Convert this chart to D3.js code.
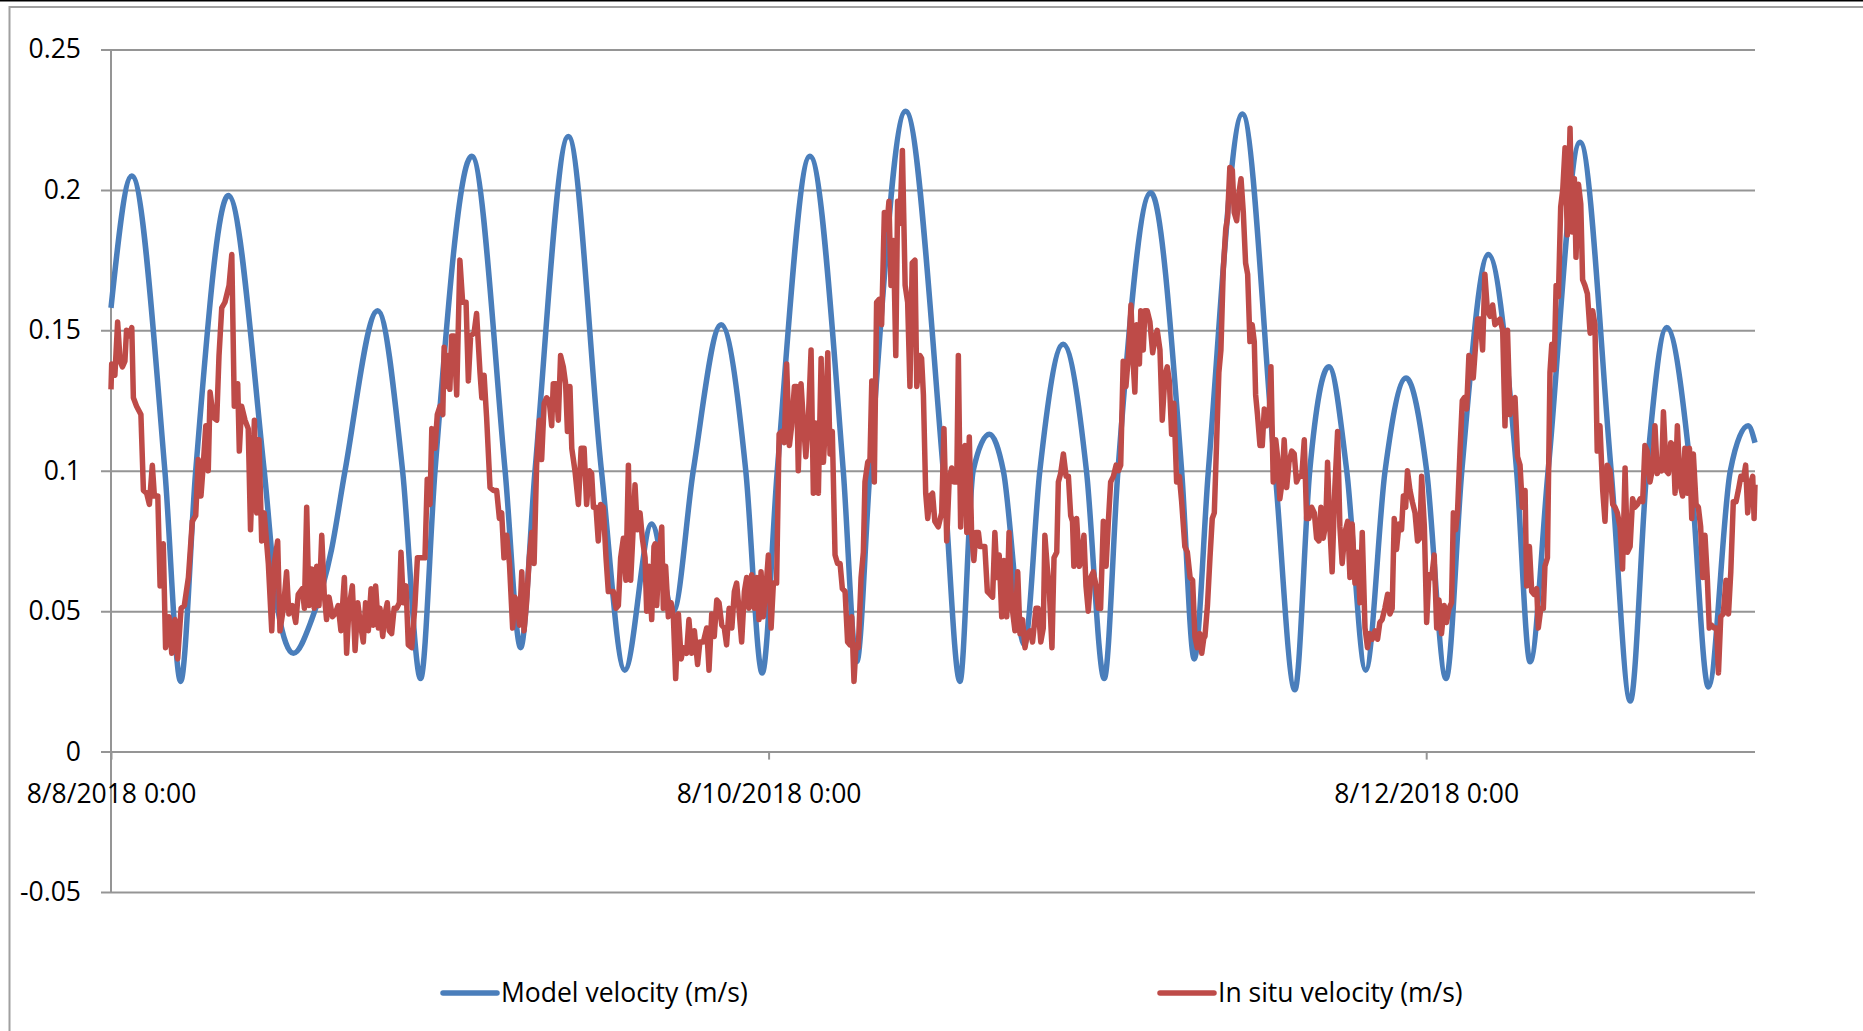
<!DOCTYPE html>
<html lang="en">
<head>
    <meta charset="UTF-8">
    <title>Velocity</title>
    <script src="https://d3js.org/d3.v7.min.js"></script>
    <style>
        body { margin: 0; background: #fff; }
        text { font-family: "Segoe UI", "Open Sans", sans-serif; fill: #000; }
    </style>
</head>
<body>

<script>
    // hours after 8/8/2018 0:00
    modelHours = [0, 1.51, 3.94, 5.09, 6.18, 8.56, 11.19, 12.2, 13.31, 14.65, 16.1, 17.08, 19.46,
        21.29, 22.6, 23.65, 26.33, 28.76, 29.9, 30.95, 33.38, 35.8, 37.5, 39.47, 41.05, 42.5,
        44.53, 46.33, 47.54, 48.64, 51.02, 53.45, 54.43, 55.4, 58.0, 60.75, 61.97, 62.94, 64.11,
        65.13, 66.67, 67.8, 69.5, 71.2, 72.5, 73.5, 75.9, 78.15, 79.07, 80.1, 82.58, 84.96,
        86.42, 87.5, 88.9, 90.2, 91.58, 93.0, 94.53, 96.04, 97.45, 98.6, 100.53, 102.6, 103.58,
        104.9, 107.23, 109.5, 110.9, 112.1, 113.55, 115.3, 116.6, 118.2, 119.5, 120]
    modelVelocity = [0.158, 0.205, 0.1, 0.025, 0.1, 0.198, 0.1, 0.05, 0.035, 0.047, 0.072, 0.1, 0.157,
        0.1, 0.026, 0.1, 0.212, 0.1, 0.037, 0.1, 0.219, 0.1, 0.029, 0.081, 0.05, 0.1,
        0.152, 0.1, 0.028, 0.1, 0.212, 0.1, 0.032, 0.1, 0.228, 0.1, 0.025, 0.1, 0.113,
        0.1, 0.038, 0.1, 0.145, 0.1, 0.026, 0.1, 0.199, 0.1, 0.033, 0.1, 0.227, 0.1,
        0.022, 0.1, 0.137, 0.1, 0.029, 0.1, 0.133, 0.1, 0.026, 0.1, 0.177, 0.1, 0.032,
        0.1, 0.217, 0.1, 0.018, 0.1, 0.151, 0.1, 0.023, 0.1, 0.116, 0.11]

    situHours = [0, 0.05, 0.29, 0.49, 0.66, 0.83, 1.02, 1.14, 1.31, 1.51, 1.63, 1.87, 2.19, 2.36, 2.6, 2.8,
        3.02, 3.16, 3.41, 3.58, 3.82, 3.99, 4.23, 4.43, 4.67, 4.87, 5.11, 5.35, 5.65, 5.94, 6.18, 6.37,
        6.57, 6.74, 6.91, 7.1, 7.23, 7.47, 7.71, 7.88, 8.08, 8.32, 8.61, 8.81, 9.0, 9.25, 9.37, 9.54,
        9.78, 10.02, 10.19, 10.46, 10.63, 10.8, 11.0, 11.19, 11.48, 11.73, 11.92, 12.17, 12.34, 12.58,
        12.82, 12.99, 13.24, 13.48, 13.67, 13.97, 14.11, 14.28, 14.45, 14.65, 14.84, 15.01, 15.18, 15.38,
        15.57, 15.74, 15.91, 16.16, 16.35, 16.59, 16.79, 17.03, 17.2, 17.37, 17.62, 17.81, 18.01, 18.18,
        18.42, 18.59, 18.78, 18.98, 19.15, 19.32, 19.51,
        19.64, 19.83, 20.0, 20.17, 20.32, 20.49, 20.66, 20.85, 21.05, 21.17, 21.34, 21.53, 21.7, 21.95,
        22.19, 22.36, 22.68, 22.92, 23.09, 23.28, 23.41, 23.65, 23.82, 24.01, 24.21, 24.31, 24.5, 24.62,
        24.74, 24.87, 25.04, 25.23, 25.47, 25.67, 25.91, 26.08, 26.25, 26.5, 26.69, 26.93, 27.06, 27.23,
        27.42, 27.66, 27.91, 28.15, 28.35, 28.52, 28.69, 28.88, 29.08, 29.32, 29.49, 29.66, 29.81, 29.98,
        30.15, 30.34, 30.54, 30.71, 30.88, 31.07, 31.27, 31.44, 31.61, 31.8, 31.99, 32.17, 32.29, 32.48,
        32.65, 32.82, 33.02, 33.19, 33.31, 33.5, 33.63, 33.87, 34.11, 34.31, 34.53, 34.72, 34.92, 35.09,
        35.21, 35.4, 35.57, 35.74, 35.94, 36.13, 36.3, 36.47, 36.67, 36.86, 37.03, 37.2, 37.4, 37.59,
        37.76, 37.93, 38.08, 38.25, 38.42, 38.61, 38.78, 38.98, 39.1, 39.29, 39.46, 39.63,
        39.71, 39.83, 40.0, 40.2, 40.32, 40.49, 40.68, 40.88, 41.05, 41.22, 41.41, 41.61, 41.78, 42.02,
        42.19, 42.39, 42.58, 42.82, 42.99, 43.24, 43.48, 43.65, 43.85, 44.04, 44.21, 44.38, 44.58, 44.77,
        44.94, 45.11, 45.31, 45.5, 45.67, 45.84, 46.04, 46.23, 46.4, 46.57, 46.77, 46.96, 47.13, 47.3,
        47.45, 47.62, 47.81, 47.98, 48.18, 48.35, 48.59, 48.76, 48.96, 49.15, 49.32, 49.52, 49.69, 49.88,
        50.05, 50.17, 50.37, 50.54, 50.71, 50.9, 51.1, 51.27, 51.44, 51.63, 51.83, 52.0, 52.17, 52.31,
        52.48, 52.65, 52.85, 53.04, 53.21, 53.38, 53.58, 53.77, 53.94, 54.07, 54.24, 54.38, 54.55, 54.75,
        54.92, 55.04, 55.23, 55.4, 55.53, 55.72, 55.89, 56.06, 56.25, 56.45, 56.62, 56.79, 56.94, 57.11,
        57.28, 57.42, 57.59, 57.76, 57.96, 58.15, 58.32, 58.49, 58.69, 58.81, 59.05, 59.17, 59.3, 59.47,
        59.61,
        59.78, 59.97, 60.14, 60.39, 60.63, 60.8, 61.0, 61.19, 61.36, 61.53, 61.73, 61.85, 62.02, 62.16,
        62.33, 62.46, 62.65, 62.82, 62.99, 63.14, 63.31, 63.43, 63.62, 63.79, 63.96, 64.16, 64.35, 64.52,
        64.69, 64.84, 65.01, 65.18, 65.38, 65.55, 65.74, 65.98, 66.18, 66.35, 66.54, 66.71, 66.88, 67.08,
        67.27, 67.52, 67.69, 67.86, 68.05, 68.17, 68.34, 68.49, 68.69, 68.83, 69.03, 69.15, 69.32, 69.51,
        69.71, 69.88, 70.05, 70.19, 70.29, 70.49, 70.68, 70.85, 71.02, 71.17, 71.34, 71.51, 71.7, 71.9,
        72.07, 72.24, 72.43, 72.63, 72.8, 72.97, 73.16, 73.36, 73.53, 73.7, 73.89, 74.09, 74.26, 74.45,
        74.62, 74.74, 74.87, 75.06, 75.16, 75.35, 75.47, 75.64, 75.84, 76.03, 76.2, 76.37, 76.57, 76.74,
        76.93, 77.1, 77.25, 77.42, 77.59, 77.78, 77.98, 78.15, 78.39, 78.56, 78.76, 78.95, 79.12, 79.29,
        79.49, 79.61, 79.78,
        79.85, 80.04, 80.21, 80.39, 80.53, 80.7, 80.87, 81.02, 81.19, 81.36, 81.5, 81.67, 81.85, 81.99,
        82.16, 82.33, 82.48, 82.65, 82.82, 82.96, 83.13, 83.3, 83.45, 83.55, 83.69, 83.86, 84.03, 84.18,
        84.35, 84.52, 84.67, 84.84, 85.01, 85.15, 85.32, 85.49, 85.64, 85.81, 85.98, 86.18, 86.37, 86.54,
        86.71, 86.91, 87.1, 87.27, 87.44, 87.64, 87.83, 88.0, 88.17, 88.32, 88.49, 88.66, 88.8, 88.97,
        89.14, 89.34, 89.53, 89.7, 89.87, 90.07, 90.26, 90.43, 90.6, 90.8, 90.99, 91.16, 91.33, 91.53,
        91.72, 91.89, 92.06, 92.26, 92.45, 92.62, 92.79, 92.99, 93.18, 93.35, 93.52, 93.67, 93.84, 94.01,
        94.2, 94.33, 94.5, 94.64, 94.81, 94.98, 95.18, 95.37, 95.54, 95.66, 95.86, 96.03, 96.2, 96.4,
        96.59, 96.76, 96.93, 97.12, 97.32, 97.49, 97.66, 97.85, 97.98, 98.15, 98.29, 98.46, 98.63, 98.78,
        98.95, 99.12, 99.27, 99.44, 99.56, 99.75,
        99.93, 100.12, 100.29, 100.47, 100.66, 100.85, 101.02, 101.2, 101.39, 101.58, 101.75, 101.93,
        102.12, 102.29, 102.48, 102.66, 102.85, 103.02, 103.21, 103.34, 103.53, 103.7, 103.87, 104.07,
        104.19, 104.36, 104.55, 104.67, 104.85, 105.04, 105.16, 105.33, 105.48, 105.65, 105.82, 105.96,
        106.13, 106.3, 106.5, 106.65, 106.82, 106.94, 107.11, 107.28, 107.42, 107.59, 107.76, 107.96,
        108.15, 108.32, 108.49, 108.69, 108.88, 109.05, 109.22, 109.42, 109.61, 109.78, 109.95, 110.15,
        110.34, 110.51, 110.68, 110.88, 111.07, 111.24, 111.41, 111.61, 111.8, 111.97, 112.14, 112.34,
        112.53, 112.7, 112.87, 113.02, 113.19, 113.31, 113.51, 113.68, 113.85, 114.04, 114.16, 114.33,
        114.53, 114.72, 114.89, 115.06, 115.21, 115.38, 115.5, 115.7, 115.87, 116.04, 116.18, 116.35,
        116.52, 116.67, 116.84, 117.01, 117.2, 117.33, 117.5, 117.69, 117.89, 118.06, 118.23, 118.42,
        118.62, 118.79, 118.96, 119.15, 119.32, 119.47, 119.64, 119.83, 119.93, 120]
    situVelocity = [0.129, 0.138, 0.134, 0.153, 0.139, 0.137, 0.139, 0.15, 0.148, 0.151, 0.126, 0.123, 0.12, 0.093, 0.092, 0.088,
        0.102, 0.091, 0.091, 0.059, 0.074, 0.037, 0.048, 0.035, 0.047, 0.033, 0.051, 0.052, 0.062, 0.082, 0.084, 0.104,
        0.091, 0.102, 0.116, 0.1, 0.128, 0.119, 0.118, 0.141, 0.158, 0.16, 0.166, 0.177, 0.123, 0.131, 0.107, 0.123,
        0.118, 0.115, 0.079, 0.118, 0.085, 0.111, 0.075, 0.085, 0.067, 0.043, 0.067, 0.075, 0.043, 0.051,
        0.064, 0.049, 0.052, 0.046, 0.056, 0.058, 0.051, 0.087, 0.052, 0.065, 0.051, 0.066, 0.052, 0.077,
        0.056, 0.047, 0.055, 0.048, 0.049, 0.052, 0.043, 0.062, 0.035, 0.051, 0.059, 0.036, 0.053, 0.046,
        0.039, 0.053, 0.043, 0.058, 0.045, 0.059, 0.044,
        0.051, 0.041, 0.049, 0.053, 0.043, 0.042, 0.051, 0.051, 0.053, 0.071, 0.053, 0.059, 0.038, 0.037,
        0.052, 0.069, 0.069, 0.069, 0.097, 0.088, 0.115, 0.108, 0.12, 0.123, 0.12, 0.144, 0.13, 0.141,
        0.129, 0.148, 0.148, 0.127, 0.175, 0.16, 0.16, 0.132, 0.148, 0.149, 0.156, 0.135, 0.126, 0.134,
        0.119, 0.094, 0.093, 0.093, 0.083, 0.085, 0.069, 0.077, 0.067, 0.044, 0.055, 0.052, 0.045, 0.064,
        0.043, 0.053, 0.069, 0.078, 0.067, 0.102, 0.118, 0.104, 0.124, 0.126, 0.125, 0.116, 0.131, 0.131,
        0.118, 0.141, 0.137, 0.131, 0.114, 0.13, 0.108, 0.1, 0.088, 0.108, 0.108, 0.088, 0.1, 0.099,
        0.087, 0.087, 0.075, 0.088, 0.087, 0.069, 0.057, 0.057, 0.057, 0.051, 0.052, 0.069, 0.076, 0.061,
        0.102, 0.061, 0.076, 0.095, 0.079, 0.085, 0.076, 0.069, 0.05, 0.066, 0.047, 0.073,
        0.074, 0.052, 0.069, 0.08, 0.051, 0.066, 0.048, 0.053, 0.048, 0.026, 0.049, 0.033, 0.037, 0.035,
        0.047, 0.035, 0.043, 0.031, 0.039, 0.039, 0.044, 0.029, 0.049, 0.041, 0.054, 0.053, 0.045, 0.044,
        0.038, 0.051, 0.044, 0.057, 0.06, 0.051, 0.039, 0.057, 0.062, 0.051, 0.063, 0.051, 0.062, 0.047,
        0.064, 0.048, 0.059, 0.07, 0.044, 0.06, 0.06, 0.113, 0.114, 0.11, 0.138, 0.109, 0.116, 0.13,
        0.13, 0.1, 0.131, 0.118, 0.105, 0.118, 0.143, 0.092, 0.117, 0.092, 0.14, 0.103, 0.118, 0.142,
        0.106, 0.114, 0.07, 0.067, 0.067, 0.058, 0.057, 0.039, 0.038, 0.048, 0.025, 0.038, 0.037, 0.062,
        0.071, 0.096, 0.103, 0.104, 0.132, 0.096, 0.16, 0.161, 0.152, 0.192, 0.186, 0.196, 0.166, 0.182,
        0.141, 0.196, 0.188, 0.214, 0.166, 0.16, 0.13, 0.174, 0.175, 0.13, 0.141, 0.14, 0.127, 0.092,
        0.083,
        0.091, 0.092, 0.082, 0.08, 0.085, 0.115, 0.075, 0.097, 0.101, 0.096, 0.096, 0.141, 0.08, 0.107,
        0.109, 0.078, 0.112, 0.078, 0.068, 0.078, 0.078, 0.073, 0.073, 0.073, 0.057, 0.056, 0.055, 0.078,
        0.062, 0.07, 0.048, 0.068, 0.048, 0.078, 0.053, 0.043, 0.064, 0.042, 0.047, 0.037, 0.042, 0.043,
        0.039, 0.051, 0.051, 0.039, 0.044, 0.077, 0.066, 0.058, 0.037, 0.069, 0.071, 0.096, 0.099, 0.106,
        0.098, 0.098, 0.084, 0.082, 0.066, 0.083, 0.066, 0.069, 0.077, 0.059, 0.05, 0.062, 0.064, 0.059,
        0.051, 0.051, 0.082, 0.066, 0.082, 0.096, 0.098, 0.102, 0.1, 0.102, 0.139, 0.13, 0.141, 0.159,
        0.138, 0.128, 0.152, 0.138, 0.157, 0.143, 0.157, 0.157, 0.153, 0.142, 0.147, 0.15, 0.143, 0.118,
        0.134, 0.137, 0.132, 0.113, 0.124, 0.096, 0.098, 0.089, 0.073, 0.071, 0.062, 0.061, 0.041, 0.037,
        0.042, 0.035, 0.041,
        0.041, 0.052, 0.069, 0.083, 0.085, 0.11, 0.135, 0.143, 0.171, 0.186, 0.19, 0.208, 0.207, 0.192,
        0.189, 0.199, 0.204, 0.192, 0.174, 0.17, 0.146, 0.152, 0.146, 0.127, 0.12, 0.109, 0.109, 0.122,
        0.116, 0.117, 0.137, 0.096, 0.111, 0.105, 0.09, 0.096, 0.111, 0.094, 0.103, 0.107, 0.106, 0.096,
        0.098, 0.098, 0.111, 0.083, 0.083, 0.087, 0.085, 0.076, 0.075, 0.087, 0.076, 0.081, 0.103, 0.08,
        0.064, 0.094, 0.114, 0.08, 0.067, 0.078, 0.082, 0.062, 0.081, 0.06, 0.071, 0.053, 0.078, 0.044,
        0.037, 0.042, 0.04, 0.043, 0.04, 0.046, 0.047, 0.051, 0.056, 0.049, 0.051, 0.083, 0.072, 0.081,
        0.079, 0.091, 0.087, 0.1, 0.093, 0.089, 0.085, 0.075, 0.076, 0.098, 0.08, 0.046, 0.063, 0.062,
        0.07, 0.044, 0.054, 0.042, 0.052, 0.046, 0.051, 0.053, 0.085, 0.079, 0.085, 0.107, 0.125, 0.126,
        0.122, 0.141, 0.14, 0.133, 0.142, 0.154,
        0.154, 0.143, 0.17, 0.157, 0.155, 0.159, 0.152, 0.153, 0.154, 0.15, 0.116, 0.15,
        0.12, 0.125, 0.126, 0.105, 0.102, 0.087, 0.093, 0.059, 0.073, 0.057, 0.056, 0.058,
        0.044, 0.051, 0.051, 0.066, 0.069, 0.135, 0.145, 0.136, 0.166, 0.162, 0.194, 0.2,
        0.215, 0.184, 0.222, 0.185, 0.204, 0.176, 0.202, 0.195, 0.168, 0.166, 0.163, 0.149,
        0.157, 0.152, 0.107, 0.116, 0.093, 0.082, 0.102, 0.1, 0.088, 0.087, 0.085, 0.08,
        0.065, 0.101, 0.071, 0.073, 0.09, 0.087, 0.088, 0.09, 0.089, 0.109, 0.107, 0.096,
        0.101, 0.116, 0.099, 0.101, 0.1, 0.121, 0.1, 0.099, 0.11, 0.109, 0.092, 0.116,
        0.095, 0.091, 0.108, 0.092, 0.108, 0.083, 0.106, 0.088, 0.087, 0.08, 0.062, 0.077,
        0.062, 0.044, 0.045, 0.044, 0.044, 0.028, 0.048, 0.049, 0.061, 0.049, 0.064, 0.089,
        0.089, 0.093, 0.098, 0.097, 0.102, 0.085, 0.095, 0.098, 0.083, 0.095]

    xTickLabels = ["8/8/2018 0:00", "8/10/2018 0:00", "8/12/2018 0:00"]
    yTickValues = [-0.05, 0, 0.05, 0.1, 0.15, 0.2, 0.25]
    seriesNames = ["Model velocity (m/s)", "In situ velocity (m/s)"]
    seriesColors = ["#4a7ebb", "#be4b48"]

    //chart dimensions
    w = 1863
    h = 1031
    plot = {left: 111, right: 1755, top: 49.5, bottom: 892}
    fontSize = 26.5

    parseTime = d3.timeParse("%m/%d/%Y %H:%M")
    formatTime = d3.timeFormat("%-m/%-d/%Y %-H:%M")
    start = parseTime("8/8/2018 0:00")
    toDate = hr => d3.timeMinute.offset(start, Math.round(hr * 60))

    model = modelHours.map((hr, i) => ({t: toDate(hr), v: modelVelocity[i]}))
    situ = situHours.map((hr, i) => ({t: toDate(hr), v: situVelocity[i]}))

    svg = d3.select("body")
        .append("svg")
        .attr("width", w)
        .attr("height", h)

    //outer frame
    svg.append("rect")
        .attr("x", 0).attr("y", 0)
        .attr("width", w).attr("height", 1.5)
        .attr("fill", "#000")
    svg.append("path")
        .attr("d", "M9.5," + (h + 5) + "V7H" + (w + 5))
        .attr("fill", "none")
        .attr("stroke", "#a0a0a0")
        .attr("stroke-width", 2)

    //scales
    x = d3.scaleTime()
        .domain([start, d3.timeDay.offset(start, 5)])
        .range([plot.left, plot.right])

    y = d3.scaleLinear()
        .domain([-0.05, 0.25])
        .range([plot.bottom, plot.top])

    //y axis with gridlines
    yAxis = svg.append("g")
        .attr("transform", "translate(" + plot.left + ",0)")
        .call(d3.axisLeft(y)
            .tickValues(yTickValues)
            .tickSizeInner(-(plot.right - plot.left))
            .tickSizeOuter(0)
            .tickPadding(30)
            .tickFormat(d => String(+d.toFixed(2))))
    yAxis.select(".domain").remove()
    yAxis.selectAll(".tick line")
        .attr("x1", -10)
        .attr("stroke", "#959595")
        .attr("stroke-width", 2)
    yAxis.selectAll(".tick text")
        .attr("font-size", fontSize)
        .attr("font-family", null)

    //vertical axis line
    svg.append("line")
        .attr("x1", plot.left).attr("x2", plot.left)
        .attr("y1", plot.top).attr("y2", plot.bottom)
        .attr("stroke", "#959595")
        .attr("stroke-width", 2)

    //x axis at zero
    xAxis = svg.append("g")
        .attr("transform", "translate(0," + y(0) + ")")
        .call(d3.axisBottom(x)
            .tickValues(xTickLabels.map(parseTime))
            .tickSizeInner(8)
            .tickSizeOuter(0)
            .tickFormat(formatTime))
    xAxis.select(".domain").remove()
    xAxis.selectAll(".tick line")
        .attr("stroke", "#959595")
        .attr("stroke-width", 2)
    xAxis.selectAll(".tick text")
        .attr("font-size", fontSize)
        .attr("font-family", null)
        .attr("y", 51.5)
        .attr("dy", null)

    //series
    line = d3.line()
        .x(d => x(d.t))
        .y(d => y(d.v))

    svg.append("path")
        .datum(model)
        .attr("fill", "none")
        .attr("stroke", seriesColors[0])
        .attr("stroke-width", 5.5)
        .attr("stroke-linejoin", "round")
        .attr("d", line.curve(d3.curveMonotoneX))

    svg.append("path")
        .datum(situ)
        .attr("fill", "none")
        .attr("stroke", seriesColors[1])
        .attr("stroke-width", 5.5)
        .attr("stroke-linejoin", "round")
        .attr("d", line.curve(d3.curveLinear))

    //legend
    legendX = [443, 1160]
    legend = svg.selectAll("g.legend")
        .data(seriesNames)
        .join("g")
        .attr("class", "legend")
        .attr("transform", (d, i) => "translate(" + legendX[i] + ",993)")
    legend.append("line")
        .attr("x1", 0).attr("x2", 54)
        .attr("stroke", (d, i) => seriesColors[i])
        .attr("stroke-width", 5.5)
        .attr("stroke-linecap", "round")
    legend.append("text")
        .attr("x", 58)
        .attr("dy", "0.35em")
        .attr("font-size", fontSize)
        .text(d => d)

</script>

</body>
</html>
